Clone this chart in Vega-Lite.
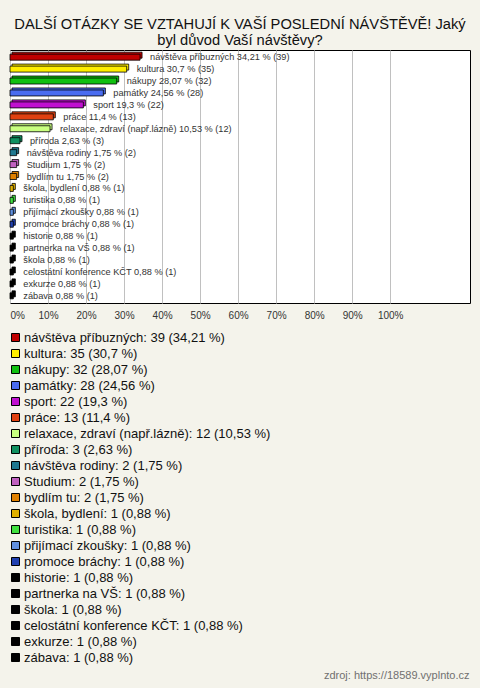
{
  "$schema": "https://vega.github.io/schema/vega-lite/v6.json",
  "width": 460,
  "height": 253,
  "autosize": {"type": "none"},
  "padding": {"left": 10, "top": 50, "right": 10, "bottom": 385},
  "background": "#f4f3eb",
  "title": {
    "text": ["DALŠÍ OTÁZKY SE VZTAHUJÍ K VAŠÍ POSLEDNÍ NÁVŠTĚVĚ! Jaký", "byl důvod Vaší návštěvy?"],
    "font": "Liberation Sans",
    "fontSize": 14.7,
    "fontWeight": "normal",
    "color": "#111111",
    "anchor": "middle",
    "offset": 2,
    "lineHeight": 16
  },
  "config": {
    "view": {"stroke": "#000000", "strokeWidth": 1, "fill": "#ffffff"},
    "font": "Liberation Sans"
  },
  "data": {
    "values": [
      {"cat": "návštěva příbuzných", "pct": 34.21, "lab": "návštěva příbuzných 34,21 % (39)", "leg": "návštěva příbuzných: 39 (34,21 %)"},
      {"cat": "kultura", "pct": 30.7, "lab": "kultura 30,7 % (35)", "leg": "kultura: 35 (30,7 %)"},
      {"cat": "nákupy", "pct": 28.07, "lab": "nákupy 28,07 % (32)", "leg": "nákupy: 32 (28,07 %)"},
      {"cat": "památky", "pct": 24.56, "lab": "památky 24,56 % (28)", "leg": "památky: 28 (24,56 %)"},
      {"cat": "sport", "pct": 19.3, "lab": "sport 19,3 % (22)", "leg": "sport: 22 (19,3 %)"},
      {"cat": "práce", "pct": 11.4, "lab": "práce 11,4 % (13)", "leg": "práce: 13 (11,4 %)"},
      {"cat": "relaxace, zdraví (např.lázně)", "pct": 10.53, "lab": "relaxace, zdraví (např.lázně) 10,53 % (12)", "leg": "relaxace, zdraví (např.lázně): 12 (10,53 %)"},
      {"cat": "příroda", "pct": 2.63, "lab": "příroda 2,63 % (3)", "leg": "příroda: 3 (2,63 %)"},
      {"cat": "návštěva rodiny", "pct": 1.75, "lab": "návštěva rodiny 1,75 % (2)", "leg": "návštěva rodiny: 2 (1,75 %)"},
      {"cat": "Studium", "pct": 1.75, "lab": "Studium 1,75 % (2)", "leg": "Studium: 2 (1,75 %)"},
      {"cat": "bydlím tu", "pct": 1.75, "lab": "bydlím tu 1,75 % (2)", "leg": "bydlím tu: 2 (1,75 %)"},
      {"cat": "škola, bydlení", "pct": 0.88, "lab": "škola, bydlení 0,88 % (1)", "leg": "škola, bydlení: 1 (0,88 %)"},
      {"cat": "turistika", "pct": 0.88, "lab": "turistika 0,88 % (1)", "leg": "turistika: 1 (0,88 %)"},
      {"cat": "přijímací zkoušky", "pct": 0.88, "lab": "přijímací zkoušky 0,88 % (1)", "leg": "přijímací zkoušky: 1 (0,88 %)"},
      {"cat": "promoce bráchy", "pct": 0.88, "lab": "promoce bráchy 0,88 % (1)", "leg": "promoce bráchy: 1 (0,88 %)"},
      {"cat": "historie", "pct": 0.88, "lab": "historie 0,88 % (1)", "leg": "historie: 1 (0,88 %)"},
      {"cat": "partnerka na VŠ", "pct": 0.88, "lab": "partnerka na VŠ 0,88 % (1)", "leg": "partnerka na VŠ: 1 (0,88 %)"},
      {"cat": "škola", "pct": 0.88, "lab": "škola 0,88 % (1)", "leg": "škola: 1 (0,88 %)"},
      {"cat": "celostátní konference KČT", "pct": 0.88, "lab": "celostátní konference KČT 0,88 % (1)", "leg": "celostátní konference KČT: 1 (0,88 %)"},
      {"cat": "exkurze", "pct": 0.88, "lab": "exkurze 0,88 % (1)", "leg": "exkurze: 1 (0,88 %)"},
      {"cat": "zábava", "pct": 0.88, "lab": "zábava 0,88 % (1)", "leg": "zábava: 1 (0,88 %)"}
    ]
  },
  "encoding": {
    "y": {
      "field": "cat",
      "type": "nominal",
      "sort": null,
      "scale": {"paddingInner": 0, "paddingOuter": 0.1},
      "axis": null
    },
    "x": {
      "field": "pct",
      "type": "quantitative",
      "scale": {"domain": [0, 121], "nice": false, "zero": true},
      "axis": {
        "values": [0, 10, 20, 30, 40, 50, 60, 70, 80, 90, 100],
        "labelExpr": "datum.value + '%'",
        "grid": true,
        "gridColor": "#c0c0c0",
        "gridWidth": 1,
        "domain": false,
        "ticks": false,
        "labelFont": "Liberation Sans",
        "labelFontSize": 10,
        "labelColor": "#333333",
        "labelPadding": 7,
        "labelFlush": true,
        "title": "zdroj: https://18589.vyplnto.cz",
        "titleFont": "Liberation Sans",
        "titleFontSize": 11,
        "titleFontWeight": "normal",
        "titleColor": "#707070",
        "titleAnchor": "end",
        "titleAlign": "right",
        "titleBaseline": "alphabetic",
        "titleX": 459,
        "titleY": 375
      }
    }
  },
  "layer": [
    {
      "mark": {"type": "bar", "size": 6, "xOffset": 2, "yOffset": -2, "stroke": "#000000", "strokeWidth": 0.8, "opacity": 1},
      "encoding": {
        "color": {
          "field": "leg",
          "type": "nominal",
          "sort": null,
          "scale": {
            "range": ["#c00000", "#ffee00", "#10c010", "#4a6cf0", "#c010d0", "#e04010", "#c8ff80", "#109060", "#207890", "#c060c0", "#e08000", "#e0b000", "#40e040", "#6090e0", "#2040b0", "#000000", "#000000", "#000000", "#000000", "#000000", "#000000"]
          },
          "legend": {
            "orient": "none",
            "legendX": -1,
            "legendY": 281,
            "title": null,
            "direction": "vertical",
            "symbolType": "square",
            "symbolSize": 64,
            "symbolStrokeColor": "#000000",
            "symbolStrokeWidth": 1,
            "symbolOpacity": 1,
            "labelFont": "Liberation Sans",
            "labelFontSize": 13,
            "labelColor": "#111111",
            "labelLimit": 450,
            "labelOffset": 2,
            "rowPadding": 2,
            "symbolLimit": 50
          }
        }
      }
    },
    {
      "mark": {"type": "bar", "size": 6, "stroke": "#000000", "strokeWidth": 0.8, "opacity": 1},
      "encoding": {
        "color": {"field": "leg", "type": "nominal", "sort": null}
      }
    },
    {
      "mark": {"type": "text", "align": "left", "baseline": "middle", "dx": 10, "dy": 0, "fontSize": 9.2, "font": "Liberation Sans", "color": "#333333"},
      "encoding": {
        "text": {"field": "lab"}
      }
    }
  ]
}
